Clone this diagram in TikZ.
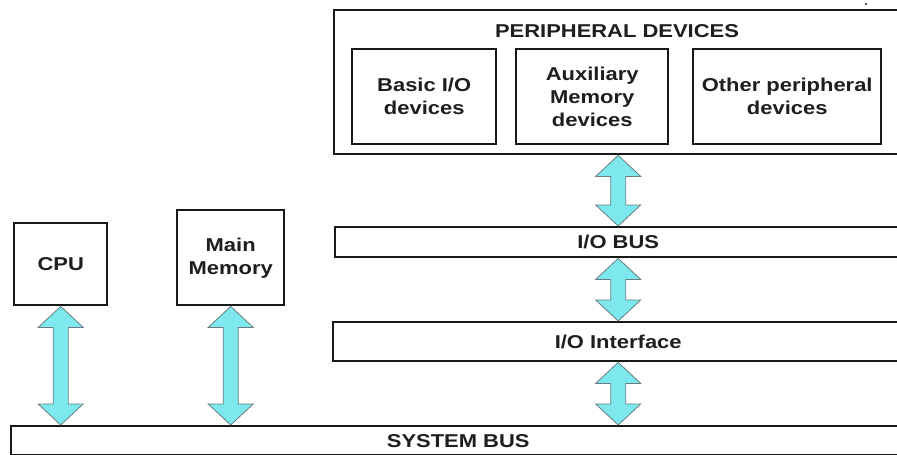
\documentclass[tikz,border=0pt]{standalone}
\usepackage{fontspec}
\setmainfont{Liberation Sans}[FakeStretch=1.18]
\usetikzlibrary{calc}
\definecolor{aqua}{RGB}{125,232,238}
\definecolor{arrline}{RGB}{105,125,128}
\definecolor{boxline}{RGB}{25,25,25}
\definecolor{txt}{RGB}{30,30,30}
\tikzset{
  box/.style={draw=boxline, line width=2.4pt, fill=white, anchor=north west,
    inner sep=0pt, align=center, text=txt,
    font=\fontsize{18.6}{23}\selectfont\bfseries},
  arrowshape/.style={fill=aqua, draw=arrline, line width=0.8pt, line join=miter}
}
\newcommand\biarrow[2]{%
  \path[arrowshape] let \p1=(#1), \p2=(#2) in
    (\x1,\y1) -- (\x1+22.5pt,\y1-21pt) -- (\x1+7.5pt,\y1-21pt)
    -- (\x1+7.5pt,\y2+21pt) -- (\x1+22.5pt,\y2+21pt) -- (\x1,\y2)
    -- (\x1-22.5pt,\y2+21pt) -- (\x1-7.5pt,\y2+21pt)
    -- (\x1-7.5pt,\y1-21pt) -- (\x1-22.5pt,\y1-21pt) -- cycle;}
\begin{document}
\begin{tikzpicture}[x=1pt,y=-1pt]
\useasboundingbox (0,0) rectangle (897,455);
\clip (0,0) rectangle (897,455);
\fill[white] (0,0) rectangle (897,455);
% peripheral devices
\node[box, minimum width=568pt, minimum height=144pt] (perip) at (333,9) {};
\node[text=txt, font=\fontsize{18.6}{23}\selectfont\bfseries] (ptitle) at (617,31) {PERIPHERAL DEVICES};
\node[box, minimum width=144pt, minimum height=95pt] (basic) at (351,48) {Basic I/O\\devices};
\node[box, minimum width=152pt, minimum height=95pt] (auxm) at (515,48) {Auxiliary\\Memory\\devices};
\node[box, minimum width=188pt, minimum height=95pt] (other) at (692,48) {Other peripheral\\devices};
% buses
\node[box, minimum width=566pt, minimum height=30pt] (iobus) at (334,226) {I/O BUS};
\node[box, minimum width=570pt, minimum height=39pt] (ioint) at (332,321) {I/O Interface};
\node[box, minimum width=894pt, minimum height=29pt] (sysbus) at (10,425) {SYSTEM BUS};
% cpu and memory
\node[box, minimum width=93pt, minimum height=82pt] (cpu) at (13,222) {CPU};
\node[box, minimum width=107pt, minimum height=95pt] (mem) at (176,209) {Main\\Memory};
% arrows
\biarrow{perip.south}{iobus.north}
\biarrow{iobus.south}{ioint.north}
\biarrow{ioint.south}{sysbus.north -| ioint.south}
\biarrow{cpu.south}{sysbus.north -| cpu.south}
\biarrow{mem.south}{sysbus.north -| mem.south}
% stray dot
\fill[boxline] (866,4) circle (1.2);
\end{tikzpicture}
\end{document}
